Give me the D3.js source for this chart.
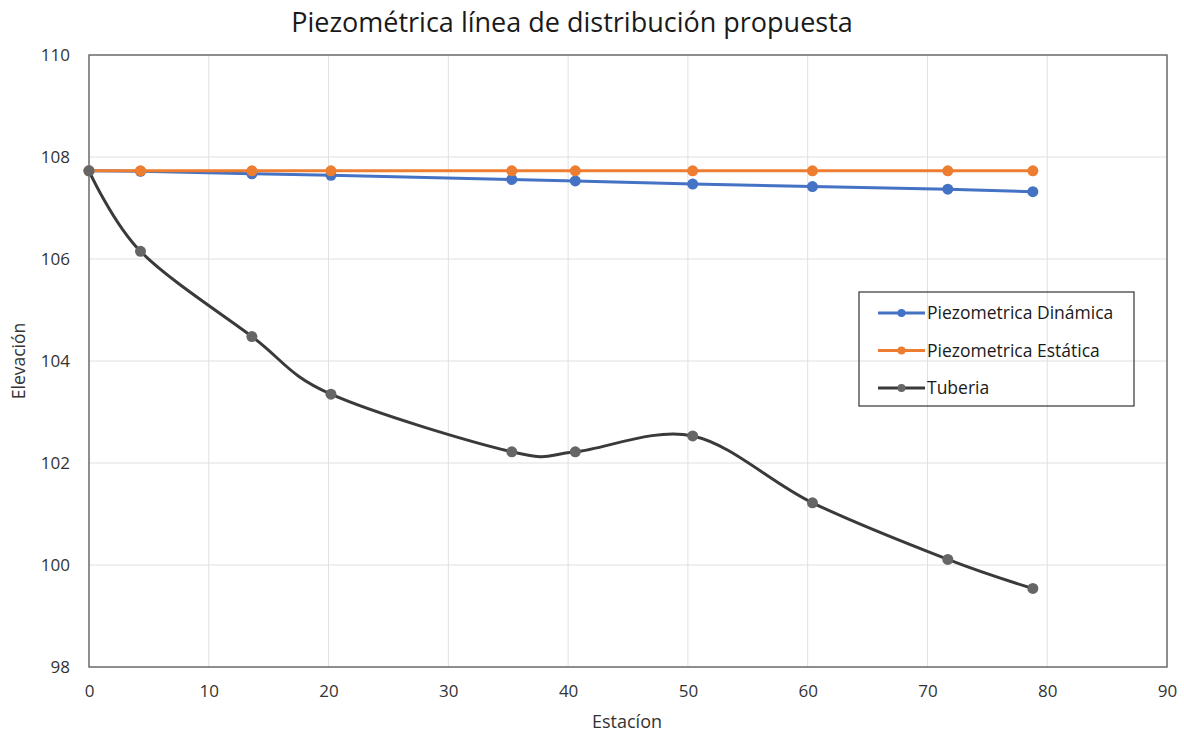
<!DOCTYPE html>
<html>
<head>
<meta charset="utf-8">
<script src="https://cdn.jsdelivr.net/npm/d3@7"></script>
<style>
  html, body { margin: 0; padding: 0; background: #fff; }
  #chart { width: 1184px; height: 736px; }
  text { font-family: "Open Sans", "Noto Sans", sans-serif; }
</style>
</head>
<body>
<div id="chart"></div>
<script>
// datos
const estacion = [0, 4.3, 13.6, 20.2, 35.3, 40.6, 50.4, 60.4, 71.7, 78.8];
const dinamica = [107.73, 107.72, 107.67, 107.64, 107.56, 107.53, 107.47, 107.42, 107.37, 107.32];
const estatica = [107.73, 107.73, 107.73, 107.73, 107.73, 107.73, 107.73, 107.73, 107.73, 107.73];
const tuberia = [107.73, 106.15, 104.48, 103.35, 102.22, 102.22, 102.53, 101.22, 100.11, 99.54];
const xTicks = [0, 10, 20, 30, 40, 50, 60, 70, 80, 90];
const yTicks = [98, 100, 102, 104, 106, 108, 110];

const series = [
  { name: 'Piezometrica Dinámica', values: dinamica, color: '#4472c4', marker: '#4472c4', smooth: false },
  { name: 'Piezometrica Estática', values: estatica, color: '#ed7d31', marker: '#ed7d31', smooth: false },
  { name: 'Tuberia', values: tuberia, color: '#3a3a3a', marker: '#666666', smooth: true }
];

const width = 1184, height = 736;
const margin = { top: 55, right: 17, bottom: 69, left: 89 };
const innerW = width - margin.left - margin.right;
const innerH = height - margin.top - margin.bottom;

const svg = d3.select('#chart').append('svg')
  .attr('width', width).attr('height', height);

const g = svg.append('g').attr('transform', `translate(${margin.left},${margin.top})`);

const x = d3.scaleLinear().domain([0, 90]).range([0, innerW]);
const y = d3.scaleLinear().domain([98, 110]).range([innerH, 0]);

// título
svg.append('text')
  .attr('x', 572).attr('y', 32)
  .attr('text-anchor', 'middle')
  .style('font-size', '27px')
  .attr('fill', '#1a1a1a')
  .text('Piezométrica línea de distribución propuesta');

// rejilla
g.selectAll('.vgrid').data(xTicks).enter().append('line')
  .attr('x1', d => x(d)).attr('x2', d => x(d))
  .attr('y1', 0).attr('y2', innerH)
  .attr('stroke', '#e0e0e0').attr('stroke-width', 1);
g.selectAll('.hgrid').data(yTicks).enter().append('line')
  .attr('x1', 0).attr('x2', innerW)
  .attr('y1', d => y(d)).attr('y2', d => y(d))
  .attr('stroke', '#e0e0e0').attr('stroke-width', 1);

// marco
g.append('rect')
  .attr('x', 0).attr('y', 0).attr('width', innerW).attr('height', innerH)
  .attr('fill', 'none').attr('stroke', '#6e6e6e').attr('stroke-width', 1.5);

// ejes
const xAxis = g.append('g')
  .attr('transform', `translate(0,${innerH})`)
  .call(d3.axisBottom(x).tickValues(xTicks).tickSize(0).tickPadding(18));
xAxis.select('.domain').remove();
xAxis.selectAll('text').style('font-size', '17px').attr('fill', '#333');

const yAxis = g.append('g')
  .call(d3.axisLeft(y).tickValues(yTicks).tickSize(0).tickPadding(19));
yAxis.select('.domain').remove();
yAxis.selectAll('text').style('font-size', '17px').attr('fill', '#333');

// títulos de ejes
svg.append('text')
  .attr('x', 627).attr('y', 728)
  .attr('text-anchor', 'middle')
  .style('font-size', '18px').attr('fill', '#333')
  .text('Estacíon');
svg.append('text')
  .attr('transform', `translate(25,361) rotate(-90)`)
  .attr('text-anchor', 'middle')
  .style('font-size', '17.5px').attr('fill', '#333')
  .text('Elevación');

// líneas
series.forEach(s => {
  const pts = estacion.map((e, i) => [e, s.values[i]]);
  const line = d3.line()
    .x(d => x(d[0])).y(d => y(d[1]))
    .curve(s.smooth ? d3.curveCardinal.tension(0) : d3.curveLinear);
  g.append('path').datum(pts)
    .attr('fill', 'none')
    .attr('stroke', s.color)
    .attr('stroke-width', 3)
    .attr('d', line);
  g.selectAll(null).data(pts).enter().append('circle')
    .attr('cx', d => x(d[0])).attr('cy', d => y(d[1]))
    .attr('r', 5.5)
    .attr('fill', s.marker);
});

// leyenda
const legend = svg.append('g').attr('transform', 'translate(859,292)');
legend.append('rect')
  .attr('width', 275).attr('height', 114)
  .attr('fill', 'none').attr('stroke', '#333').attr('stroke-width', 1.2);
series.forEach((s, i) => {
  const ly = 21 + i * 37.5;
  legend.append('line')
    .attr('x1', 19).attr('x2', 66).attr('y1', ly).attr('y2', ly)
    .attr('stroke', s.color).attr('stroke-width', 3);
  legend.append('circle')
    .attr('cx', 42.5).attr('cy', ly).attr('r', 4)
    .attr('fill', s.marker);
  legend.append('text')
    .attr('x', 68).attr('y', ly).attr('dy', '0.35em')
    .style('font-size', '17.5px').attr('fill', '#1a1a1a')
    .text(s.name);
});
</script>
</body>
</html>
